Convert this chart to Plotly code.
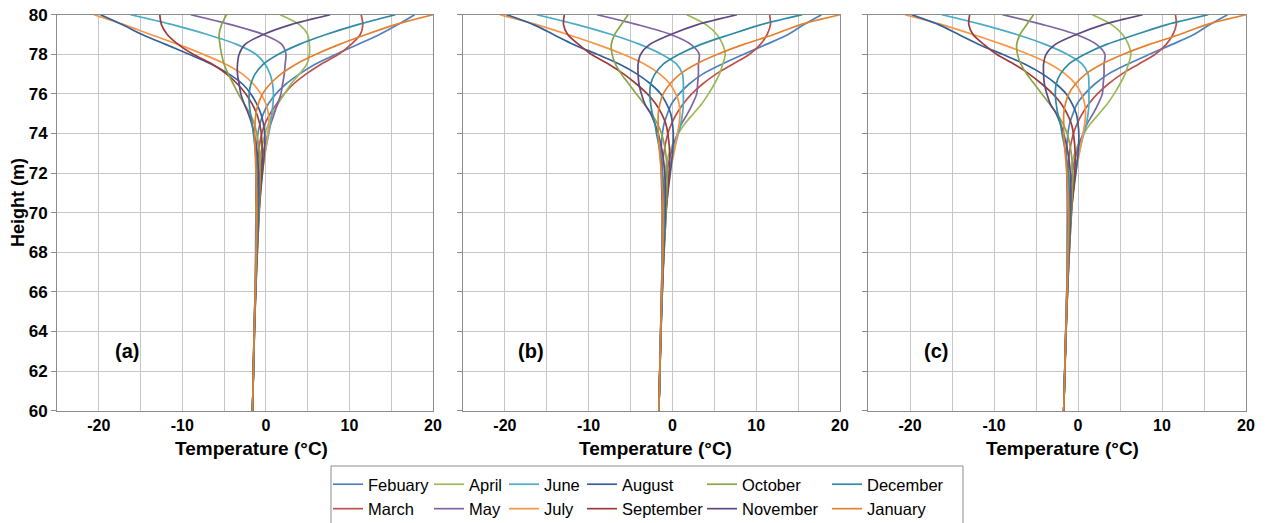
import plotly.graph_objects as go

# ---------------- data ----------------
HEIGHT = [80, 79.5, 79, 78.5, 78, 77.5, 77, 76.5, 76, 75.5, 75, 74.5, 74, 73, 72, 70, 67, 64, 60]

MONTHS = ["Febuary", "March", "April", "May", "June", "July",
          "August", "September", "October", "November", "December", "January"]

COLORS = ["#4F81BD", "#C0504D", "#9BBB59", "#8064A2", "#4BACC6", "#F79646",
          "#34609A", "#9E3B3A", "#8AA546", "#5E4A80", "#2F8AA5", "#E4802E"]

# panel (a)
A_FEB = [17.8, 15.8, 13.6, 11.0, 8.4, 5.9, 4.0, 2.4, 1.2, 0.3, -0.3, -0.7, -0.95, -1.15, -1.19, -1.16, -1.22, -1.4, -1.6]
A_MAR = [11.4, 11.6, 11.3, 10.2, 8.7, 6.6, 4.8, 3.3, 2.2, 1.3, 0.5, -0.1, -0.5, -0.9, -1.1, -1.2, -1.23, -1.41, -1.6]
A_APR = [1.7, 4.0, 5.0, 5.2, 5.2, 4.9, 4.0, 3.0, 2.22, 1.46, 0.83, 0.32, -0.08, -0.62, -0.92, -1.18, -1.24, -1.41, -1.6]
A_MAY = [-9.0, -4.2, -0.3, 1.9, 2.4, 2.3, 2.2, 2.0, 1.8, 1.4, 1.0, 0.6, 0.25, -0.33, -0.72, -1.12, -1.23, -1.41, -1.6]
A_JUN = [-16.2, -11.2, -7.0, -3.5, -1.2, -0.1, 0.5, 0.8, 0.9, 0.85, 0.7, 0.55, 0.35, -0.13, -0.53, -1.02, -1.21, -1.4, -1.6]
A_JUL = [-20.6, -17.0, -13.8, -10.5, -7.5, -4.8, -2.8, -1.5, -0.6, 0.0, 0.3, 0.35, 0.25, -0.08, -0.42, -0.92, -1.18, -1.39, -1.6]
A_AUG = [-19.8, -17.2, -14.8, -12.0, -9.2, -6.5, -4.4, -2.8, -1.8, -1.1, -0.6, -0.3, -0.15, -0.19, -0.41, -0.84, -1.15, -1.38, -1.6]
A_SEP = [-12.7, -12.5, -11.8, -10.5, -8.7, -6.4, -4.7, -3.4, -2.4, -1.65, -1.1, -0.75, -0.55, -0.44, -0.5, -0.8, -1.13, -1.37, -1.6]
A_OCT = [-4.7, -5.3, -5.6, -5.5, -5.3, -5.0, -4.5, -3.9, -3.3, -2.6, -1.9, -1.4, -1.1, -0.76, -0.68, -0.82, -1.13, -1.37, -1.6]
A_NOV = [7.7, 3.0, -0.3, -2.5, -3.2, -3.4, -3.4, -3.2, -3.0, -2.6, -2.1, -1.7, -1.4, -1.03, -0.88, -0.88, -1.15, -1.38, -1.6]
A_DEC = [15.5, 11.0, 7.2, 4.0, 1.5, -0.3, -1.3, -1.8, -2.0, -1.99, -1.84, -1.65, -1.5, -1.23, -1.07, -0.98, -1.18, -1.39, -1.6]
A_JAN = [20.0, 15.5, 12.0, 8.8, 6.0, 3.6, 1.8, 0.5, -0.4, -0.9, -1.2, -1.3, -1.35, -1.28, -1.18, -1.08, -1.2, -1.4, -1.6]

# panel (b)
B_FEB = [17.8, 15.7, 13.8, 11.2, 8.5, 5.9, 3.6, 2.0, 0.8, -0.1, -0.6, -1.0, -1.2, -1.37, -1.34, -1.2, -1.23, -1.4, -1.62]
B_MAR = [11.6, 11.7, 11.3, 10.5, 9.2, 7.2, 5.2, 3.6, 2.3, 1.3, 0.5, -0.1, -0.55, -1.03, -1.21, -1.25, -1.25, -1.41, -1.62]
B_APR = [1.7, 4.0, 5.3, 6.0, 6.3, 6.0, 5.6, 5.0, 4.3, 3.5, 2.5, 1.5, 0.7, -0.4, -0.9, -1.23, -1.26, -1.41, -1.62]
B_MAY = [-9.0, -4.2, -0.2, 2.2, 3.2, 3.1, 3.1, 3.0, 2.9, 2.4, 1.8, 1.1, 0.6, -0.18, -0.69, -1.15, -1.25, -1.41, -1.62]
B_JUN = [-16.2, -11.4, -7.3, -3.9, -1.3, 0.5, 1.2, 1.3, 1.3, 1.3, 1.2, 1.0, 0.7, 0.1, -0.43, -1.03, -1.22, -1.4, -1.62]
B_JUL = [-20.6, -16.2, -12.5, -9.0, -5.9, -3.3, -1.5, -0.3, 0.4, 0.8, 0.9, 0.8, 0.6, 0.17, -0.28, -0.9, -1.18, -1.39, -1.62]
B_AUG = [-19.8, -16.6, -14.2, -11.8, -9.0, -6.3, -4.2, -2.6, -1.4, -0.7, -0.2, 0.0, 0.1, 0.01, -0.26, -0.8, -1.14, -1.38, -1.62]
B_SEP = [-12.9, -13.0, -12.5, -11.2, -9.7, -7.6, -5.8, -4.3, -3.0, -2.0, -1.3, -0.8, -0.55, -0.33, -0.39, -0.75, -1.12, -1.37, -1.62]
B_OCT = [-5.3, -6.1, -6.9, -7.3, -7.2, -6.8, -6.1, -5.2, -4.3, -3.4, -2.5, -1.8, -1.3, -0.8, -0.63, -0.77, -1.12, -1.37, -1.62]
B_NOV = [7.7, 3.0, -0.2, -2.7, -3.8, -4.1, -4.1, -4.0, -3.7, -3.3, -2.6, -2.1, -1.7, -1.18, -0.91, -0.85, -1.14, -1.38, -1.62]
B_DEC = [15.5, 10.6, 6.9, 3.4, 0.8, -1.1, -2.1, -2.6, -2.7, -2.6, -2.4, -2.1, -1.9, -1.46, -1.17, -0.97, -1.18, -1.39, -1.62]
B_JAN = [20.0, 15.3, 12.1, 8.5, 5.4, 2.8, 0.9, -0.3, -1.1, -1.5, -1.7, -1.7, -1.7, -1.53, -1.32, -1.1, -1.2, -1.4, -1.62]

# panel (c)
C_FEB = [17.8, 15.7, 13.8, 11.2, 8.5, 5.9, 3.6, 2.0, 0.8, -0.1, -0.6, -1.0, -1.2, -1.37, -1.34, -1.22, -1.26, -1.45, -1.7]
C_MAR = [11.6, 11.7, 11.3, 10.5, 9.2, 7.2, 5.2, 3.6, 2.3, 1.3, 0.5, -0.1, -0.55, -1.03, -1.21, -1.27, -1.28, -1.46, -1.7]
C_APR = [1.7, 4.0, 5.3, 6.0, 6.3, 6.0, 5.6, 5.0, 4.3, 3.5, 2.5, 1.5, 0.7, -0.4, -0.9, -1.25, -1.29, -1.46, -1.7]
C_MAY = [-9.0, -4.2, -0.2, 2.2, 3.2, 3.1, 3.1, 3.0, 2.9, 2.4, 1.8, 1.1, 0.6, -0.18, -0.69, -1.17, -1.28, -1.46, -1.7]
C_JUN = [-16.2, -11.4, -7.3, -3.9, -1.3, 0.5, 1.2, 1.3, 1.3, 1.3, 1.2, 1.0, 0.7, 0.1, -0.43, -1.05, -1.25, -1.45, -1.7]
C_JUL = [-20.6, -16.2, -12.5, -9.0, -5.9, -3.3, -1.5, -0.3, 0.4, 0.8, 0.9, 0.8, 0.6, 0.17, -0.28, -0.92, -1.21, -1.44, -1.7]
C_AUG = [-19.8, -16.6, -14.2, -11.8, -9.0, -6.3, -4.2, -2.6, -1.4, -0.7, -0.2, 0.0, 0.1, 0.01, -0.26, -0.82, -1.17, -1.43, -1.7]
C_SEP = [-12.9, -13.0, -12.5, -11.2, -9.7, -7.6, -5.8, -4.3, -3.0, -2.0, -1.3, -0.8, -0.55, -0.33, -0.39, -0.77, -1.15, -1.42, -1.7]
C_OCT = [-5.3, -6.1, -6.9, -7.3, -7.2, -6.8, -6.1, -5.2, -4.3, -3.4, -2.5, -1.8, -1.3, -0.8, -0.63, -0.79, -1.15, -1.42, -1.7]
C_NOV = [7.7, 3.0, -0.2, -2.7, -3.8, -4.1, -4.1, -4.0, -3.7, -3.3, -2.6, -2.1, -1.7, -1.18, -0.91, -0.87, -1.17, -1.43, -1.7]
C_DEC = [15.5, 10.6, 6.9, 3.4, 0.8, -1.1, -2.1, -2.6, -2.7, -2.6, -2.4, -2.1, -1.9, -1.46, -1.17, -0.99, -1.21, -1.44, -1.7]
C_JAN = [20.0, 15.3, 12.1, 8.5, 5.4, 2.8, 0.9, -0.3, -1.1, -1.5, -1.7, -1.7, -1.7, -1.53, -1.32, -1.12, -1.23, -1.45, -1.7]

PANELS = [
    ("(a)", [A_FEB, A_MAR, A_APR, A_MAY, A_JUN, A_JUL, A_AUG, A_SEP, A_OCT, A_NOV, A_DEC, A_JAN]),
    ("(b)", [B_FEB, B_MAR, B_APR, B_MAY, B_JUN, B_JUL, B_AUG, B_SEP, B_OCT, B_NOV, B_DEC, B_JAN]),
    ("(c)", [C_FEB, C_MAR, C_APR, C_MAY, C_JUN, C_JUL, C_AUG, C_SEP, C_OCT, C_NOV, C_DEC, C_JAN]),
]

X_TICKS = [-20, -15, -10, -5, 0, 5, 10, 15, 20]
X_TICKTEXT = ["-20", "", "-10", "", "0", "", "10", "", "20"]
Y_TICKS = [60, 62, 64, 66, 68, 70, 72, 74, 76, 78, 80]

# ---------------- layout geometry ----------------
W, H = 1267, 523
FONT = "Liberation Sans, Arial, sans-serif"
X_DOMAINS = [(57, 433), (463, 840), (868, 1246)]
Y_DOMAIN = [1 - 410.7 / H, 1 - 14.7 / H]
TITLE_X = [251, 656, 1062]

# legend columns: (month indices in column, text start px)
LEGEND_COLS = [((0, 1), 370), ((2, 3), 471), ((4, 5), 546), ((6, 7), 624), ((8, 9), 744), ((10, 11), 869)]
month_to_legend = {}
for ci, (idxs, _) in enumerate(LEGEND_COLS):
    for m in idxs:
        month_to_legend[m] = "legend" if ci == 0 else f"legend{ci + 1}"

fig = go.Figure()

for p, (label, series) in enumerate(PANELS):
    sfx = "" if p == 0 else str(p + 1)
    for m, vals in enumerate(series):
        fig.add_trace(go.Scatter(
            x=vals, y=HEIGHT, mode="lines",
            line=dict(color=COLORS[m], width=1.7, shape="spline", smoothing=0.8),
            name=MONTHS[m],
            showlegend=(p == 0),
            legend=month_to_legend[m],
            xaxis="x" + sfx, yaxis="y" + sfx,
            hoverinfo="skip",
        ))

axis_common = dict(
    showgrid=True, gridcolor="#c6c6c6", gridwidth=1.4,
    showline=True, linecolor="#8c8c8c", linewidth=1, mirror=True,
    zeroline=False, automargin=False,
)

layout = dict(
    template="none",
    width=W, height=H, autosize=False,
    margin=dict(l=0, r=0, t=0, b=0, pad=0, autoexpand=False),
    paper_bgcolor="white", plot_bgcolor="white",
    font=dict(family=FONT, color="black"),
    annotations=[], shapes=[],
)

for p in range(3):
    sfx = "" if p == 0 else str(p + 1)
    x0, x1 = X_DOMAINS[p]
    layout["xaxis" + sfx] = dict(
        axis_common,
        domain=[x0 / W, x1 / W], anchor="y" + sfx,
        range=[-25, 20], tickvals=X_TICKS, ticktext=X_TICKTEXT,
        ticks="", tickfont=dict(family=FONT, size=16, weight="bold", color="black"),
    )
    layout["yaxis" + sfx] = dict(
        axis_common,
        domain=Y_DOMAIN, anchor="x" + sfx,
        range=[60, 80], tickvals=Y_TICKS,
        ticks="outside", ticklen=5, tickcolor="#8c8c8c",
        showticklabels=(p == 0),
        tickfont=dict(family=FONT, size=17, weight="bold", color="black"),
    )
    # x title
    layout["annotations"].append(dict(
        text="Temperature (°C)", x=TITLE_X[p] / W, y=1 - 448 / H,
        xref="paper", yref="paper", showarrow=False,
        font=dict(family=FONT, size=19, weight="bold", color="black"),
        xanchor="center", yanchor="middle",
    ))
    # panel label
    layout["annotations"].append(dict(
        text=PANELS[p][0], x=-16.9 if p else -16.6, y=63,
        xref="x" + sfx, yref="y" + sfx, showarrow=False,
        font=dict(family=FONT, size=20, weight="bold", color="black"),
        xanchor="center", yanchor="middle",
    ))

layout["annotations"].append(dict(
    text="Height (m)", x=18 / W, y=1 - 203 / H, xref="paper", yref="paper",
    showarrow=False, textangle=-90,
    font=dict(family=FONT, size=18, weight="bold", color="black"),
    xanchor="center", yanchor="middle",
))

# legend box
layout["shapes"].append(dict(
    type="rect", xref="paper", yref="paper",
    x0=331 / W, x1=963 / W, y0=-0.02, y1=1 - 466 / H,
    line=dict(color="#8c8c8c", width=1), fillcolor="rgba(0,0,0,0)",
))

for ci, (idxs, tx) in enumerate(LEGEND_COLS):
    key = "legend" if ci == 0 else f"legend{ci + 1}"
    layout[key] = dict(
        x=(tx - 42) / W, y=1 - 467 / H, xanchor="left", yanchor="top",
        orientation="v", bgcolor="rgba(0,0,0,0)", borderwidth=0,
        font=dict(family=FONT, size=16.5, color="black"),
        itemwidth=30, tracegroupgap=0, traceorder="normal",
    )

fig.update_layout(**layout)
fig.write_html(
    "out.html",
    config={"displayModeBar": False},
    post_script="document.body.style.margin='0px';document.body.style.overflow='hidden';",
)
